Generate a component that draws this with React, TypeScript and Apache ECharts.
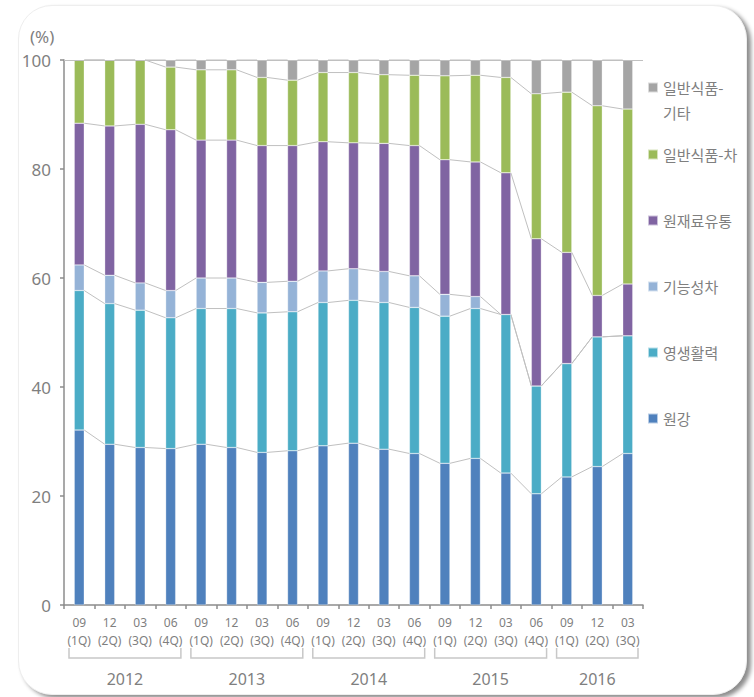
import React, { useEffect, useRef } from "react";
import * as echarts from "echarts";

// ---- data ----
const periods = ["09", "12", "03", "06", "09", "12", "03", "06", "09", "12", "03", "06", "09", "12", "03", "06", "09", "12", "03"];
const quarters = ["1Q", "2Q", "3Q", "4Q", "1Q", "2Q", "3Q", "4Q", "1Q", "2Q", "3Q", "4Q", "1Q", "2Q", "3Q", "4Q", "1Q", "2Q", "3Q"];
const years = ["2012", "2013", "2014", "2015", "2016"];
const yearSpans = [4, 4, 4, 4, 3];

const seriesNames = ["원강", "영생활력", "기능성차", "원재료유통", "일반식품-차", "일반식품-기타"];
const wongang = [32.1, 29.5, 28.9, 28.7, 29.5, 28.9, 28.0, 28.3, 29.2, 29.7, 28.6, 27.8, 26.0, 26.9, 24.2, 20.4, 23.5, 25.4, 27.8];
const yeongsaeng = [25.6, 25.8, 25.2, 24.0, 24.9, 25.5, 25.6, 25.5, 26.3, 26.2, 26.9, 26.8, 27.0, 27.5, 29.1, 19.8, 20.8, 23.8, 21.6];
const gineung = [4.7, 5.2, 5.0, 5.0, 5.6, 5.6, 5.6, 5.6, 5.8, 5.8, 5.7, 5.8, 4.0, 2.2, 0, 0, 0, 0, 0];
const wonjaeryo = [26.0, 27.4, 29.1, 29.5, 25.3, 25.3, 25.1, 24.9, 23.7, 23.1, 23.5, 23.9, 24.7, 24.7, 26.0, 27.0, 20.4, 7.6, 9.5];
const ilbanCha = [11.6, 12.1, 11.8, 11.5, 12.9, 12.9, 12.5, 12.0, 12.7, 12.9, 12.6, 12.9, 15.4, 15.9, 17.5, 26.6, 29.4, 34.8, 32.1];
const ilbanEtc = [0, 0, 0, 1.3, 1.8, 1.8, 3.2, 3.7, 2.3, 2.3, 2.7, 2.8, 2.9, 2.8, 3.2, 6.2, 5.9, 8.4, 9.0];
const yTicks = { min: 0, max: 100, interval: 20 };

const colors = ["#4F81BD", "#4BACC6", "#95B3D7", "#8064A2", "#9BBB59", "#A5A5A5"];
const FONT = "'Noto Sans', 'Noto Sans CJK KR', sans-serif";
const GRAY = "#7f7f7f";
const BAR_W = 10;

export default function App() {
  const ref = useRef<HTMLDivElement>(null);

  useEffect(() => {
    if (!ref.current) return;
    const chart = echarts.init(ref.current, null, { renderer: "svg" });

    const stacks = [wongang, yeongsaeng, gineung, wonjaeryo, ilbanCha, ilbanEtc];
    const categories = periods.map((p, i) => `${p}\n(${quarters[i]})`);
    const cum = stacks.map((_, s) =>
      categories.map((__, i) => stacks.slice(0, s + 1).reduce((t, arr) => t + arr[i], 0))
    );
    const lineData: number[][] = [];
    cum.forEach((arr) => {
      for (let i = 0; i < arr.length - 1; i++) lineData.push([i, arr[i], arr[i + 1]]);
    });
    const bracketData: number[][] = [];
    let start = 0;
    yearSpans.forEach((n) => {
      bracketData.push([start, start + n - 1, 0]);
      start += n;
    });

    const barSeries: any[] = stacks.map((arr, s) => ({
      name: seriesNames[s],
      type: "bar",
      stack: "total",
      barWidth: BAR_W,
      data: arr,
      itemStyle: { color: colors[s], borderColor: "rgba(255,255,255,0.6)", borderWidth: 0.5 },
      z: 3,
    }));
    barSeries[5].markLine = {
      silent: true,
      symbol: "none",
      label: { show: false },
      lineStyle: { color: "#c0c0c0", type: "solid", width: 1 },
      data: [{ yAxis: 100 }],
    };

    const option: any = {
      animation: false,
      textStyle: { fontFamily: FONT },
      color: colors,
      grid: { left: 64, right: 111, top: 60, bottom: 92, containLabel: false },
      legend: [
        {
          data: ["일반식품-기타"],
          orient: "vertical",
          left: 647,
          top: 50,
          padding: 0,
          itemWidth: 10,
          itemHeight: 10,
          icon: "rect",
          formatter: () => "\n일반식품-\n기타",
          textStyle: { fontSize: 15, color: GRAY, lineHeight: 25, fontFamily: "'Noto Sans CJK KR', sans-serif" },
          selectedMode: false,
        },
        {
          data: ["일반식품-차", "원재료유통", "기능성차", "영생활력", "원강"],
          orient: "vertical",
          left: 647,
          top: 142,
          padding: 0,
          itemGap: 41,
          itemWidth: 10,
          itemHeight: 10,
          icon: "rect",
          textStyle: { fontSize: 15, color: GRAY, lineHeight: 25, fontFamily: "'Noto Sans CJK KR', sans-serif" },
          selectedMode: false,
        },
      ],
      graphic: [
        {
          type: "text",
          left: 30,
          top: 28,
          style: { text: "(%)", fill: GRAY, fontSize: 17, fontFamily: FONT },
        },
      ],
      xAxis: {
        type: "category",
        data: categories,
        axisLine: { lineStyle: { color: "#8c8c8c", width: 1.5 } },
        axisTick: { show: true, length: 4, lineStyle: { color: "#8c8c8c", width: 1.5 } },
        axisLabel: { interval: 0, color: GRAY, fontSize: 12, lineHeight: 18, margin: 8 },
      },
      yAxis: {
        type: "value",
        min: yTicks.min,
        max: yTicks.max,
        interval: yTicks.interval,
        axisLine: { show: true, lineStyle: { color: "#8c8c8c", width: 1.5 } },
        axisTick: { show: true, length: 4, lineStyle: { color: "#8c8c8c", width: 1.5 } },
        splitLine: { show: false },
        axisLabel: { color: GRAY, fontSize: 17, margin: 13 },
      },
      series: [
        ...barSeries,
        {
          type: "custom",
          silent: true,
          clip: false,
          z: 2,
          dimensions: ["i", "a", "b"],
          encode: { x: 0, y: [1, 2] },
          data: lineData,
          renderItem: (params: any, api: any) => {
            const i = api.value(0);
            const a = api.coord([i, api.value(1)]);
            const b = api.coord([i + 1, api.value(2)]);
            const h = BAR_W / 2;
            return {
              type: "line",
              shape: { x1: a[0] + h, y1: a[1], x2: b[0] - h, y2: b[1] },
              style: { stroke: "#c0c0c0", lineWidth: 1 },
            };
          },
        },
        {
          type: "custom",
          silent: true,
          clip: false,
          dimensions: ["s", "e", "v"],
          encode: { x: [0, 1], y: 2 },
          data: bracketData,
          renderItem: (params: any, api: any) => {
            const l = api.coord([api.value(0), 0]);
            const r = api.coord([api.value(1), 0]);
            const band = api.size([1, 0])[0];
            const x1 = l[0] - band / 2 + 5;
            const x2 = r[0] + band / 2 - 5;
            const y0 = l[1];
            return {
              type: "group",
              children: [
                {
                  type: "polyline",
                  shape: { points: [[x1, y0 + 43], [x1, y0 + 53], [x2, y0 + 53], [x2, y0 + 43]] },
                  style: { stroke: "#c8c8c8", lineWidth: 1.5, fill: null },
                },
                {
                  type: "text",
                  style: {
                    text: years[params.dataIndex],
                    x: (x1 + x2) / 2,
                    y: y0 + 74,
                    align: "center",
                    verticalAlign: "middle",
                    fill: GRAY,
                    fontSize: 16,
                    fontFamily: FONT,
                  },
                },
              ],
            };
          },
        },
      ],
    };

    chart.setOption(option);
    return () => chart.dispose();
  }, []);

  return (
    <div style={{ position: "absolute", left: 0, top: 0, width: 754, height: 697, background: "#fff" }}>
      <div
        style={{
          position: "absolute",
          left: 18,
          top: 5,
          width: 727,
          height: 688,
          borderRadius: 34,
          border: "1px solid #eeeeee",
          boxShadow: "4px 3px 4px rgba(0,0,0,0.45)",
          background: "#fff",
        }}
      />
      <div ref={ref} style={{ position: "absolute", left: 0, top: 0, width: 754, height: 697 }} />
    </div>
  );
}
